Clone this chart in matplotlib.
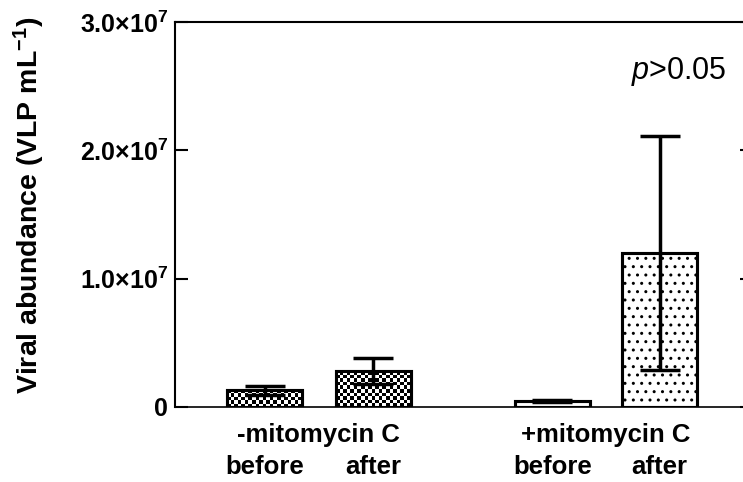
import numpy as np
import matplotlib
matplotlib.use("Agg")
import matplotlib.pyplot as plt
import matplotlib.transforms as mtransforms

plt.rcParams["font.family"] = ["Liberation Sans", "DejaVu Sans"]
plt.rcParams["mathtext.fontset"] = "custom"
plt.rcParams["mathtext.rm"] = "Liberation Sans:bold"
plt.rcParams["mathtext.bf"] = "Liberation Sans:bold"
plt.rcParams["mathtext.it"] = "Liberation Sans:italic"

# data
groups = ["-mitomycin C", "+mitomycin C"]
stages = ["before", "after", "before", "after"]
means = [1.3e6, 2.8e6, 0.5e6, 1.2e7]
errs = [0.33e6, 1.02e6, 0.08e6, 0.91e7]
xpos = [0.0, 1.0, 2.65, 3.64]
yticks = [0, 1e7, 2e7, 3e7]
ytick_labels = ["0", "1.0\u00d710$^{7}$", "2.0\u00d710$^{7}$", "3.0\u00d710$^{7}$"]
fills = ["checker", "checker", "", ".."]
p_text = "$p$>0.05"

XLIM = (-0.825, 4.49)
YLIM = (0, 3e7)


def checker_fill(ax, patch, cell=3.5):
    x0, y0 = patch.get_x(), patch.get_y()
    w, h = patch.get_width(), patch.get_height()
    (px0, py0), (px1, py1) = ax.transData.transform([(x0, y0), (x0 + w, y0 + h)])
    nx = max(int(round((px1 - px0) / cell)), 1)
    ny = max(int(round((py1 - py0) / cell)), 1)
    grid = np.add.outer(np.arange(ny), np.arange(nx)) % 2
    im = ax.imshow(grid, cmap="gray", vmin=0, vmax=1, extent=(x0, x0 + w, y0, y0 + h),
                   origin="lower", interpolation="nearest", aspect="auto", zorder=2)
    im.set_clip_path(patch)


fig = plt.figure(figsize=(7.43, 4.82), dpi=100)
ax = fig.add_axes([175 / 743, 1 - 407 / 482, (752 - 175) / 743, (407 - 22) / 482])
ax.set_xlim(*XLIM)
ax.set_ylim(*YLIM)

bars = ax.bar(xpos, means, width=0.69, color="white", edgecolor="black",
              linewidth=2.2, zorder=1)
for b, f in zip(bars, fills):
    if f == "checker":
        checker_fill(ax, b)
    elif f:
        b.set_hatch(f)
ax.bar(xpos, means, width=0.69, fill=False, edgecolor="black", linewidth=2.2, zorder=3)

ax.errorbar(xpos, means, yerr=errs, fmt="none", ecolor="black", elinewidth=2.5,
            capsize=14.4, capthick=2.5, zorder=4)

ax.set_xlim(*XLIM)
ax.set_ylim(*YLIM)

for sp in ["top", "left", "right"]:
    ax.spines[sp].set_linewidth(1.5)
ax.spines["bottom"].set_linewidth(1.2)

ax.set_yticks(yticks)
ax.set_yticklabels(ytick_labels, fontsize=18, fontweight="bold")
ax.tick_params(axis="y", direction="in", length=9, width=1.5, pad=5,
               left=True, right=True)
ax.set_xticks([])

ax.set_ylabel("Viral abundance (VLP mL$^{-1}$)", fontsize=20.5, fontweight="bold")
ax.yaxis.set_label_coords(-0.222, 0.525)

trans = mtransforms.blended_transform_factory(ax.transData, ax.transAxes)
for i, g in enumerate(groups):
    gx = np.mean(xpos[2 * i:2 * i + 2])
    ax.text(gx, -0.073, g, transform=trans, ha="center", va="center",
            fontsize=18.5, fontweight="bold")
for x, s in zip(xpos, stages):
    ax.text(x, -0.156, s, transform=trans, ha="center", va="center",
            fontsize=18.5, fontweight="bold")

ax.text(0.873, 0.872, p_text, transform=ax.transAxes, ha="center", va="center",
        fontsize=22)

fig.savefig("out.png", dpi=100)
